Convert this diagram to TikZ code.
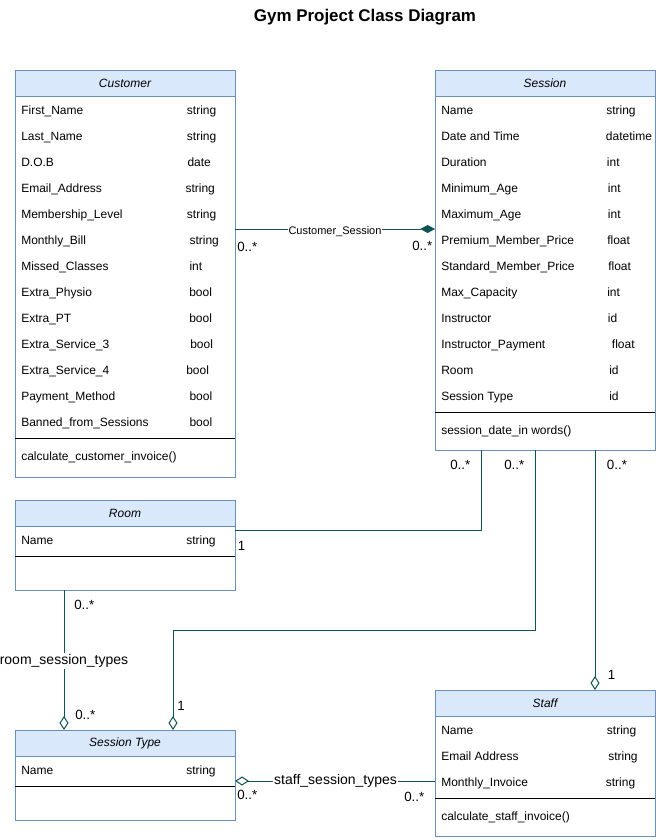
\documentclass[tikz,border=0pt]{standalone}
\usepackage{fontspec}
\setmainfont{Liberation Sans}
\usetikzlibrary{arrows.meta,calc}
\definecolor{hdr}{HTML}{DAE8FC}
\definecolor{bdr}{HTML}{6C8EBF}
\definecolor{conn}{HTML}{0F5257}
\newcommand\umlclass[5]{%
  \fill[hdr] (#2,#3) rectangle ++(220,26);
  \draw[bdr,line width=0.75pt] (#2,#3+26) -- ++(220,0);
  \node[classbox, minimum height=#4*0.75pt, anchor=north west] (#1) at (#2,#3) {};
  \node[titletext] (#1-title) at (#2+110,#3+13) {#5};
}
\begin{document}
\begin{tikzpicture}[x=0.75pt,y=-0.75pt,
  classbox/.style={draw=bdr, line width=0.75pt, minimum width=165pt, inner sep=0pt, outer sep=0pt},
  titletext/.style={font=\fontsize{9}{11}\selectfont\itshape, inner sep=0pt},
  attr/.style={anchor=base west, font=\fontsize{9}{11}\selectfont, inner sep=0pt},
  divider/.style={black, line width=0.75pt},
  conn/.style={draw=conn, line width=0.75pt},
  mult/.style={anchor=west, font=\fontsize{10}{12}\selectfont, inner sep=0pt},
  assoclabel/.style={fill=white, inner sep=1pt, font=\fontsize{10.5}{12}\selectfont},
  opendiam/.style={-{Diamond[open, length=10.5pt, width=6.75pt, fill=white]}},
  filldiam/.style={-{Diamond[length=11pt, width=6pt]}}
]
\useasboundingbox (0,0) rectangle (656,840);
\fill[white] (0,0) rectangle (656,840);

\node[anchor=base, font=\fontsize{12.7}{15}\selectfont\bfseries, inner sep=0pt] (title) at (365,21) {Gym Project Class Diagram};

% Customer
\umlclass{cust}{15}{70}{407}{Customer}
\foreach \n/\t/\tx [count=\i] in {First\_Name/string/186.7, Last\_Name/string/186.7, D.O.B/date/187.3, Email\_Address/string/185.3, Membership\_Level/string/186.7, Monthly\_Bill/string/189.3, Missed\_Classes/int/189.3, Extra\_Physio/bool/189, Extra\_PT/bool/189, Extra\_Service\_3/bool/190, Extra\_Service\_4/bool/186, Payment\_Method/bool/189.3, Banned\_from\_Sessions/bool/189.3}{
  \node[attr] (cust-n\i) at (21,{114.5+26*(\i-1)}) {\n};
  \node[attr] (cust-t\i) at (\tx,{114.5+26*(\i-1)}) {\t};
}
\draw[divider] (cust.west |- 0,438) -- (cust.east |- 0,438);
\node[attr] (cust-m1) at (21,460.3) {calculate\_customer\_invoice()};

% Session
\umlclass{sess}{435}{70}{380}{Session}
\foreach \n/\t/\tx [count=\i] in {Name/string/606, Date and Time/datetime/605.7, Duration/int/606.7, Minimum\_Age/int/607.7, Maximum\_Age/int/607.7, Premium\_Member\_Price/float/607, Standard\_Member\_Price/float/608, Max\_Capacity/int/607, Instructor/id/607.7, Instructor\_Payment/float/611.7, Room/id/609, Session Type/id/609}{
  \node[attr] (sess-n\i) at (441,{114.5+26*(\i-1)}) {\n};
  \node[attr] (sess-t\i) at (\tx,{114.5+26*(\i-1)}) {\t};
}
\draw[divider] (sess.west |- 0,412) -- (sess.east |- 0,412);
\node[attr] (sess-m1) at (441,434.3) {session\_date\_in words()};

% Room
\umlclass{room}{15}{500}{90}{Room}
\node[attr] (room-n1) at (21,544.3) {Name};
\node[attr] (room-t1) at (186,544.3) {string};
\draw[divider] (room.west |- 0,556.7) -- (room.east |- 0,556.7);

% Session Type
\umlclass{stype}{15}{730}{90}{Session Type}
\node[attr] (stype-n1) at (21,774.3) {Name};
\node[attr] (stype-t1) at (186,774.3) {string};
\draw[divider] (stype.west |- 0,786.7) -- (stype.east |- 0,786.7);

% Staff
\umlclass{staff}{435}{690}{146}{Staff}
\foreach \n/\t/\tx [count=\i] in {Name/string/606.7, Email Address/string/608, Monthly\_Invoice/string/605.6}{
  \node[attr] (staff-n\i) at (441,{734.3+26*(\i-1)}) {\n};
  \node[attr] (staff-t\i) at (\tx,{734.3+26*(\i-1)}) {\t};
}
\draw[divider] (staff.west |- 0,798) -- (staff.east |- 0,798);
\node[attr] (staff-m1) at (441,820.3) {calculate\_staff\_invoice()};

% Connectors
% Customer - Session
\draw[conn, filldiam] (cust.east |- 0,229) -- (sess.west |- 0,229);
\node[fill=white, inner sep=0.5pt, font=\fontsize{8.25}{10}\selectfont] (lbl-cs) at (335,232) {Customer\_Session};
\node[mult] (m-cs1) at (237,246.7) {0..*};
\node[mult] (m-cs2) at (412,245.7) {0..*};

% Room - Session
\draw[conn] ($(sess.south west)+(46,0)$) |- (room.east |- 0,530);
\node[mult] (m-rs1) at (450,465) {0..*};
\node[mult] (m-rs2) at (237.5,545.7) {1};

% Session Type - Session
\draw[conn, opendiam] ($(sess.south west)+(100,0)$) -- ++(0,180) -| ($(stype.north west)+(158,0)$);
\node[mult] (m-ss1) at (504,465) {0..*};
\node[mult] (m-ss2) at (177,705.7) {1};

% Staff - Session
\draw[conn, opendiam] ($(sess.south west)+(160,0)$) -- ($(staff.north west)+(160,0)$);
\node[mult] (m-sf1) at (606.7,465) {0..*};
\node[mult] (m-sf2) at (607.5,675) {1};

% Room - Session Type
\draw[conn, opendiam] ($(room.south west)+(49,0)$) -- ($(stype.north west)+(49,0)$);
\node[assoclabel] (lbl-rst) at (64,660.7) {room\_session\_types};
\node[mult] (m-rt1) at (74,605) {0..*};
\node[mult] (m-rt2) at (75,715) {0..*};

% Session Type - Staff
\draw[conn, opendiam] (staff.west |- 0,781) -- (stype.east |- 0,781);
\node[assoclabel] (lbl-sst) at (335.6,780.7) {staff\_session\_types};
\node[mult] (m-st1) at (237,795) {0..*};
\node[mult] (m-st2) at (404,796.7) {0..*};
\end{tikzpicture}
\end{document}
